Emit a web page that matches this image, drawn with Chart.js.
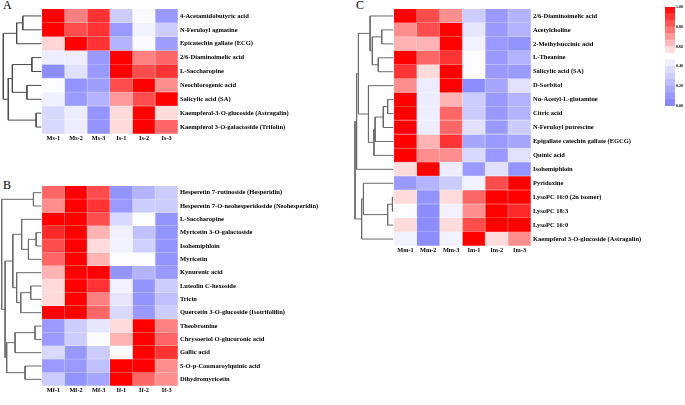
<!DOCTYPE html>
<html><head><meta charset="utf-8">
<script src="https://cdn.jsdelivr.net/npm/chart.js@4.4.1/dist/chart.umd.min.js"></script>
<style>
html,body{margin:0;padding:0;background:#fff;width:685px;height:405px;overflow:hidden;position:relative}
canvas{position:absolute}
.lt{position:absolute;font-family:"Liberation Serif",serif;font-size:12px;color:#000;line-height:1}
</style></head><body>
<div class="lt" style="left:3px;top:-1px">A</div>
<div class="lt" style="left:3px;top:179px">B</div>
<div class="lt" style="left:356px;top:-1px">C</div>
<canvas id="cA" width="300" height="147" style="left:0;top:0"></canvas>
<canvas id="cB" width="330" height="225" style="left:0;top:180px"></canvas>
<canvas id="cC" width="310" height="260" style="left:350px;top:0"></canvas>
<canvas id="cK" width="32" height="112" style="left:655px;top:0"></canvas>
<script>
// ---------- Panel A ----------
const samplesA = ['Ms-1','Ms-2','Ms-3','Is-1','Is-2','Is-3'];
const metabolitesA = ['4-Acetamidobutyric acid','N-Feruloyl agmatine','Epicatechin gallate (ECG)','2/6-Diaminoimelic acid','L-Saccharopine','Neochlorogenic acid','Salicylic acid (SA)','Kaempferol-3-O-glucoside (Astragalin)','Kaempferol 3-O-galactoside (Trifolin)'];
const valuesA = [
  [1.00,0.75,0.90,0.30,0.48,0.10],
  [1.00,0.85,0.90,0.10,0.45,0.30],
  [0.58,1.00,0.90,0.20,0.48,0.12],
  [0.43,0.43,0.10,1.00,0.75,0.80],
  [0.05,0.38,0.10,1.00,0.85,0.90],
  [0.49,0.08,0.12,0.85,1.00,0.72],
  [0.44,0.10,0.20,0.70,0.85,1.00],
  [0.35,0.43,0.08,0.57,1.00,0.57],
  [0.35,0.43,0.08,0.57,1.00,0.80]
];
// linkage: [childA, childB, height]; indices < n are rows, n+k is k-th merge
const linkageA = [[0,1,0.85],[9,2,1.12],[3,4,0.45],[5,6,0.67],[11,12,1.31],[7,8,0.26],[13,14,1.49],[10,15,1.71]];

// ---------- Panel B ----------
const samplesB = ['Mf-1','Mf-2','Mf-3','If-1','If-2','If-3'];
const metabolitesB = ['Hesperetin 7-rutinoside (Hesperidin)','Hesperetin 7-O-neohesperidoside (Neohesperidin)','L-Saccharopine','Myricetin 3-O-galactoside','Isohemiphloin','Myricetin','Kynurenic acid','Luteolin C-hexoside','Tricin','Quercetin 3-O-glucoside (Isotrifolilin)','Theobromine','Chrysoeriol O-glucuronic acid','Gallic acid','5-O-p-Coumaroylquinic acid','Dihydromyricetin'];
const valuesB = [
  [0.80,1.00,0.85,0.08,0.20,0.30],
  [0.72,1.00,0.90,0.10,0.30,0.30],
  [1.00,1.00,0.85,0.35,0.49,0.08],
  [0.92,1.00,0.65,0.45,0.25,0.08],
  [0.85,1.00,0.57,0.45,0.32,0.08],
  [0.80,1.00,0.65,0.49,0.49,0.08],
  [0.65,1.00,1.00,0.08,0.20,0.10],
  [0.57,1.00,0.90,0.45,0.08,0.30],
  [0.57,1.00,0.75,0.40,0.08,0.25],
  [1.00,1.00,0.80,0.35,0.10,0.30],
  [0.10,0.30,0.40,0.57,1.00,0.75],
  [0.10,0.30,0.49,0.65,1.00,0.80],
  [0.35,0.10,0.30,0.49,1.00,0.90],
  [0.10,0.10,0.25,1.00,1.00,0.72],
  [0.30,0.08,0.15,1.00,0.80,0.72]
];
const linkageB = [[0,1,0.38],[3,4,0.26],[16,5,0.60],[2,17,0.90],[7,8,0.50],[19,9,0.94],[6,20,1.12],[18,21,1.29],[10,11,0.31],[23,12,1.19],[13,14,0.75],[24,25,1.56],[22,26,1.63],[15,27,1.78]];

// ---------- Panel C ----------
const samplesC = ['Mm-1','Mm-2','Mm-3','Im-1','Im-2','Im-3'];
const metabolitesC = ['2/6-Diaminoimelic acid','Acetylcholine','2-Methylsuccinic acid','L-Theanine','Salicylic acid (SA)','D-Sorbitol','Nα-Acetyl-L-glutamine','Citric acid','N-Feruloyl putrescine','Epigallate catechin gallate (EGCG)','Quinic acid','Isohemiphloin','Pyridoxine','LysoPC 16:0 (2n isomer)','LysoPC 18:3','LysoPC 16:0','Kaempferol 3-O-glucoside (Astragalin)'];
const valuesC = [
  [1.00,0.85,0.72,0.30,0.10,0.20],
  [0.72,0.85,1.00,0.40,0.10,0.20],
  [0.65,0.65,1.00,0.45,0.10,0.08],
  [1.00,0.80,0.90,0.49,0.10,0.20],
  [0.90,0.57,1.00,0.49,0.10,0.10],
  [0.72,0.43,1.00,0.05,0.15,0.38],
  [1.00,0.43,0.65,0.30,0.10,0.20],
  [1.00,0.43,0.80,0.30,0.10,0.20],
  [1.00,0.43,0.80,0.38,0.10,0.30],
  [1.00,0.65,0.90,0.15,0.10,0.15],
  [1.00,0.72,0.72,0.35,0.10,0.38],
  [0.57,1.00,0.43,0.10,0.38,0.08],
  [0.10,0.20,0.30,0.45,0.85,1.00],
  [0.57,0.08,0.57,0.80,1.00,1.00],
  [0.49,0.05,0.45,0.72,1.00,0.92],
  [0.57,0.05,0.57,0.85,1.00,1.00],
  [0.45,0.05,0.45,1.00,0.57,0.72]
];
const linkageC = [[1,2,0.54],[3,4,0.69],[17,18,0.95],[0,19,1.05],[6,7,0.28],[21,8,0.47],[22,9,0.83],[23,10,0.88],[5,24,1.12],[20,25,1.56],[26,11,1.64],[13,14,0.07],[28,15,0.28],[12,29,1.34],[30,16,1.42],[27,31,1.71]];

// ---------- colour scale ----------
const scaleTicks = [0,0.2,0.4,0.6,0.8,1];
const LO=[128,128,255], MID=[255,255,255], HI=[255,0,0];
function heatRGB(v){
  let a,b,t;
  if(v<0.5){a=LO;b=MID;t=v/0.5;}else{a=MID;b=HI;t=(v-0.5)/0.5;}
  return a.map((x,i)=>Math.round(x+(b[i]-x)*t));
}
const rgb = c => `rgb(${c[0]},${c[1]},${c[2]})`;
function heatColor(v){return rgb(heatRGB(v));}
function edgeColor(v){const c=heatRGB(v);return rgb(c.map(x=>Math.round(x+(255-x)*0.35)));}

Chart.defaults.font.family='"Liberation Serif","Times New Roman",serif';
Chart.defaults.font.weight='bold';
Chart.defaults.color='#000';
Chart.defaults.animation=false;

function dendroSets(link,n,color){
  const ny=[],nx=[];
  for(let i=0;i<n;i++){ny[i]=i;nx[i]=-0.03;}
  return link.map(([a,b,h],k)=>{
    ny[n+k]=(ny[a]+ny[b])/2; nx[n+k]=-h;
    return {type:'scatter',showLine:true,pointRadius:0,pointHoverRadius:0,borderColor:color,borderWidth:1,clip:false,
      data:[{x:nx[a],y:ny[a]},{x:-h,y:ny[a]},{x:-h,y:ny[b]},{x:nx[b],y:ny[b]}]};
  });
}

function makePanel(id,samples,names,values,link,cfg){
  const n=names.length, m=samples.length;
  const cells=[], cv=[];
  values.forEach((row,i)=>row.forEach((v,j)=>{cells.push({y:i,x:[j,j+1]});cv.push(v);}));
  const rootH=Math.max(...link.map(l=>l[2]));
  new Chart(document.getElementById(id),{
    type:'bar',
    data:{datasets:[
      {type:'bar',indexAxis:'y',data:cells,barPercentage:1,categoryPercentage:1,
       backgroundColor:c=>heatColor(cv[c.dataIndex]),
       borderColor:c=>edgeColor(cv[c.dataIndex]),
       borderWidth:{top:0,left:0,right:1,bottom:1},borderSkipped:false},
      ...dendroSets(link,n,cfg.lineColor)
    ]},
    options:{
      responsive:false,animation:false,events:[],
      layout:{padding:{left:cfg.left,top:cfg.top,right:0,bottom:0}},
      plugins:{legend:{display:false},tooltip:{enabled:false}},
      scales:{
        x:{type:'linear',min:-rootH,max:m,offset:false,
           grid:{display:false,drawTicks:false,offset:false},border:{display:false},
           afterBuildTicks:s=>{s.ticks=samples.map((_,j)=>({value:j+0.5}));},
           afterFit:s=>{s.height=cfg.xh;},
           ticks:{autoSkip:false,maxRotation:0,padding:cfg.xpad,font:{size:6.3,weight:'bold'},callback:(v,i)=>samples[i]}},
        y:{type:'linear',position:'right',reverse:true,min:-0.5,max:n-0.5,offset:false,
           grid:{display:false,drawTicks:false,offset:false},border:{display:false},
           afterBuildTicks:s=>{s.ticks=names.map((_,i)=>({value:i}));},
           afterFit:s=>{s.width=cfg.yw;},
           ticks:{autoSkip:false,padding:2,font:{size:6.5,weight:'bold'},callback:(v,i)=>names[i]}}
      }
    }
  });
}

makePanel('cA',samplesA,metabolitesA,valuesA,linkageA,{left:3.3,top:9,xh:13,yw:122,xpad:1,lineColor:'#4a4a4a'});
makePanel('cB',samplesB,metabolitesB,valuesB,linkageB,{left:1.7,top:6,xh:19,yw:152,xpad:1,lineColor:'#6a6a6a'});
makePanel('cC',samplesC,metabolitesC,valuesC,linkageC,{left:5,top:9,xh:14,yw:129,xpad:1,lineColor:'#6a6a6a'});

// ---------- colour key ----------
const NB=15;
const bands=[...Array(NB).keys()];
new Chart(document.getElementById('cK'),{
  type:'bar',
  data:{labels:[''],datasets:bands.map(i=>({data:[[i/NB,(i+1)/NB]],backgroundColor:heatColor((i+0.5)/NB),grouped:false,barPercentage:1,categoryPercentage:1,borderWidth:0}))},
  options:{
    responsive:false,animation:false,events:[],
    layout:{padding:{left:10,top:7,right:0,bottom:6}},
    plugins:{legend:{display:false},tooltip:{enabled:false}},
    scales:{
      x:{display:false},
      y:{position:'right',min:0,max:1,grid:{display:false,drawTicks:false},border:{display:false},
         afterBuildTicks:s=>{s.ticks=scaleTicks.map(v=>({value:v}));},
         afterFit:s=>{s.width=12;},
         ticks:{autoSkip:false,padding:1,font:{size:4,weight:'bold'},callback:v=>v.toFixed(2)}}
    }
  }
});
</script>
</body></html>
